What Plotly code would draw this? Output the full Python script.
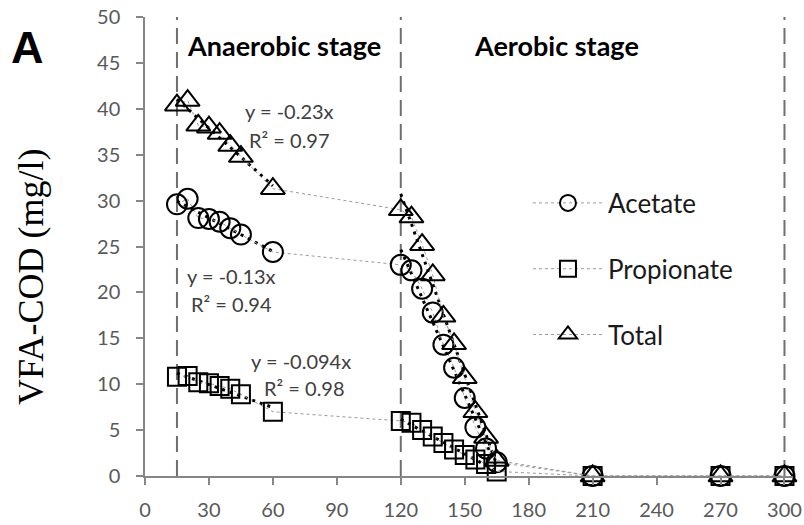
import numpy as np
import plotly.graph_objects as go

# ---------------- data ----------------
time_min = [15, 20, 25, 30, 35, 40, 45, 60,
            120, 125, 130, 135, 140, 145, 150, 155, 160, 165,
            210, 270, 300]
acetate = [29.6, 30.2, 28.1, 28.0, 27.7, 27.0, 26.3, 24.4,
           23.0, 22.4, 20.4, 17.8, 14.3, 11.8, 8.5, 5.3, 3.0, 1.5,
           0.0, 0.0, 0.0]
propionate = [10.8, 10.9, 10.2, 10.1, 9.8, 9.5, 8.9, 7.0,
              6.0, 5.8, 5.0, 4.3, 3.6, 2.9, 2.3, 1.8, 1.3, 0.5,
              0.0, 0.0, 0.0]
total = [40.4, 40.9, 38.2, 38.0, 37.3, 36.0, 34.8, 31.3,
         29.0, 28.2, 25.2, 21.9, 17.4, 14.4, 10.7, 7.0, 4.2, 1.7,
         0.0, 0.0, 0.0]

series_names = ["Acetate", "Propionate", "Total"]
anaerobic_fit_range = [15, 60]
aerobic_fit_range = [120, 165]
stage_bounds = [15, 120, 300]
stage_labels = ["Anaerobic stage", "Aerobic stage"]
stage_label_x = [65.2, 193]
fit_texts = {
    "Total": ["y = -0.23x", "R² = 0.97"],
    "Acetate": ["y = -0.13x", "R² = 0.94"],
    "Propionate": ["y = -0.094x", "R² = 0.98"],
}
fit_text_pos = {  # (x, y) in data units for the two text lines
    "Total": [(68, 39.8), (68, 36.6)],
    "Acetate": [(40.5, 21.8), (40.5, 18.7)],
    "Propionate": [(73, 12.5), (75, 9.6)],
}
x_ticks = list(range(0, 301, 30))

# ---------------- figure ----------------
fig = go.Figure()
symbols = {"Acetate": "circle-open", "Propionate": "square-open", "Total": "triangle-up-open"}
sizes = {"Acetate": 20, "Propionate": 18, "Total": 21}
values = {"Acetate": acetate, "Propionate": propionate, "Total": total}

t = np.array(time_min, dtype=float)

# dashed stage boundaries
for xb in stage_bounds:
    fig.add_shape(type="line", xref="x", yref="y", x0=xb, x1=xb, y0=0, y1=50,
                  line=dict(color="#6f6f6f", width=2, dash="16px,8px"), layer="below")

# fitted trend lines (black dotted)
for name in series_names:
    v = np.array(values[name], dtype=float)
    for lo, hi in (anaerobic_fit_range, aerobic_fit_range):
        m = (t >= lo) & (t <= hi)
        b1, b0 = np.polyfit(t[m], v[m], 1)
        xs = np.array([lo, hi], dtype=float)
        fig.add_trace(go.Scatter(x=xs, y=b0 + b1 * xs, mode="lines",
                                 line=dict(color="black", width=3, dash="3px,5px"),
                                 showlegend=False, hoverinfo="skip"))

# data series
for name in series_names:
    fig.add_trace(go.Scatter(
        x=time_min, y=values[name], name=name, mode="lines+markers",
        legendgroup=name,
        line=dict(color="#9a9a9a", width=1, dash="dot"),
        marker=dict(symbol=symbols[name], size=sizes[name], color="black",
                    line=dict(width=2, color="black")),
        cliponaxis=False,
    ))

axis_common = dict(
    showline=True, linecolor="#868686", linewidth=1.5,
    ticks="outside", ticklen=7, tickcolor="#868686", tickwidth=1.5,
    showgrid=False, zeroline=False, automargin=False,
    ticklabeloverflow="allow",
    tickfont=dict(family="Lato", size=20, color="#595959"),
)
fig.update_xaxes(range=[0, 304], tickvals=x_ticks, ticklabelstandoff=8, **axis_common)
fig.update_yaxes(range=[0, 50], dtick=5, ticklabelstandoff=12, **axis_common)

annotations = []
for name in series_names:
    for txt, (ax, ay) in zip(fit_texts[name], fit_text_pos[name]):
        annotations.append(dict(x=ax, y=ay, xref="x", yref="y", text=txt, showarrow=False,
                                font=dict(family="Lato", size=20, color="#404040"),
                                xanchor="center", yanchor="middle"))
for lbl, lx in zip(stage_labels, stage_label_x):
    annotations.append(dict(x=lx, y=46.95, xref="x", yref="y", text="<b>" + lbl + "</b>",
                            showarrow=False, font=dict(family="Lato", size=27, color="black"),
                            xanchor="center", yanchor="middle"))
annotations.append(dict(x=-0.1806, y=0.9325, xref="paper", yref="paper", text="<b>A</b>",
                        showarrow=False, font=dict(family="Liberation Sans", size=45, color="black"),
                        xanchor="center", yanchor="middle"))
annotations.append(dict(x=-0.176, y=0.4336, xref="paper", yref="paper", text="VFA-COD (mg/l)",
                        textangle=-90, showarrow=False,
                        font=dict(family="Liberation Serif", size=36, color="black"),
                        xanchor="center", yanchor="middle"))

fig.update_layout(
    width=804, height=525,
    margin=dict(l=145, r=11, t=17, b=49, autoexpand=False),
    paper_bgcolor="white", plot_bgcolor="white",
    showlegend=True,
    legend=dict(x=0.591, y=0.646, xanchor="left", yanchor="top",
                font=dict(family="Lato", size=26, color="#1a1a1a"),
                bgcolor="rgba(0,0,0,0)", tracegroupgap=29, itemwidth=70,
                traceorder="grouped"),
    annotations=annotations,
)

# remove the page's default 8px body margin so the figure fills the window exactly
fig.write_html("out.html", config={"displayModeBar": False},
               post_script="document.body.style.margin='0';document.body.style.overflow='hidden';")
